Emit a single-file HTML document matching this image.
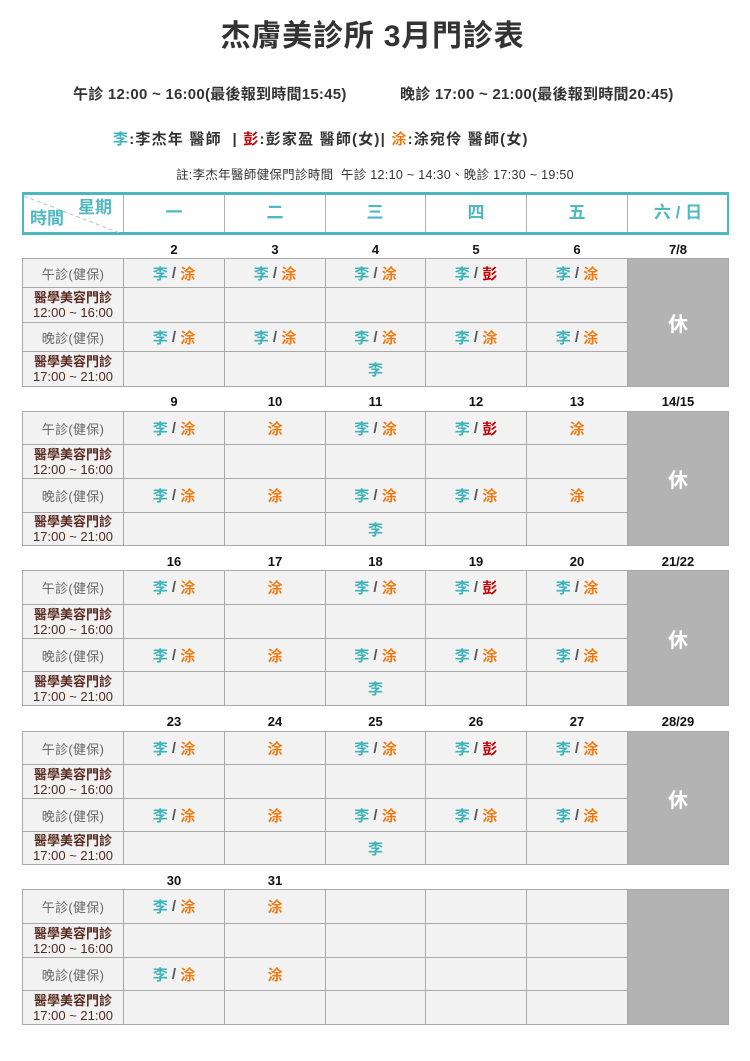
<!DOCTYPE html>
<html><head><meta charset="utf-8">
<style>
*{margin:0;padding:0;box-sizing:border-box}
body{width:750px;height:1061px;background:#fff;position:relative;overflow:hidden;font-family:"Liberation Sans","Noto Sans CJK TC",sans-serif;color:#333}
.a{position:absolute;white-space:nowrap}
.title{left:0;width:745px;text-align:center;top:18px;font-size:30px;line-height:38px;font-weight:bold;color:#333;letter-spacing:0.8px}
.hrs{top:85px;font-size:15px;line-height:20px;font-weight:bold;color:#333;letter-spacing:0.25px}
.leg{top:130px;left:113px;font-size:15px;line-height:20px;font-weight:bold;color:#333;letter-spacing:1.2px}
.note{top:166px;left:176px;font-size:12.5px;line-height:18px;color:#333;letter-spacing:0.3px}
.l{color:#3db3bc}.t{color:#f07b12}.p{color:#c40000}
.hdr{position:absolute;left:22px;top:192px;width:707px;height:43px;border-top:3px solid #4cb7bf;border-bottom:3px solid #4cb7bf;border-left:2px solid #4cb7bf;border-right:2px solid #4cb7bf;background:#fff}
.vl{position:absolute;top:195px;width:1px;height:37px;background:#b0b0b0}
.hl{position:absolute;top:202px;font-size:17px;line-height:22px;font-weight:bold;color:#4fb9c1;text-align:center;width:100px}
.blk{position:absolute;left:22px;width:707px;display:grid;grid-template-columns:100px 100px 100px 99px 100px 100px 100px;gap:1px;padding:1px;background:#a9a9a9}
.blk>div{background:#f2f2f2;display:flex;align-items:center;justify-content:center;text-align:center;font-weight:bold;font-size:15px;color:#555;white-space:nowrap}
.blk>div.k{font-weight:normal;font-size:13px;color:#666;letter-spacing:0.3px}
.blk>div.m{font-size:13px;line-height:15px;color:#4a2a20;font-weight:normal;flex-direction:column}
.blk>div.m b{font-weight:bold;color:#5a2a20}
.blk>div.g{background:#b3b3b3;grid-column:7;grid-row:1/5;color:#fff;font-size:20px}
.dt{position:absolute;left:22px;width:707px;display:grid;grid-template-columns:100px 100px 100px 99px 100px 100px 100px;gap:1px;padding:0 1px;font-size:13px;font-weight:bold;color:#111;text-align:center;line-height:16px}
</style></head><body>
<div class="a title">杰膚美診所 3月門診表</div>
<div class="a hrs" style="left:73px">午診 12:00 ~ 16:00(最後報到時間15:45)</div>
<div class="a hrs" style="left:400px">晚診 17:00 ~ 21:00(最後報到時間20:45)</div>
<div class="a leg"><span class="l">李</span>:李杰年 醫師 &nbsp;| <span class="p">彭</span>:彭家盈 醫師(女)| <span class="t">涂</span>:涂宛伶 醫師(女)</div>
<div class="a note">註:李杰年醫師健保門診時間 &nbsp;午診 12:10 ~ 14:30、晚診 17:30 ~ 19:50</div>

<div class="hdr"></div>
<svg style="position:absolute;left:0;top:0" width="750" height="240"><line x1="24" y1="196" x2="120" y2="233" stroke="#a8c8cc" stroke-width="1" stroke-dasharray="4,3"/></svg>
<div class="vl" style="left:123px"></div><div class="vl" style="left:224px"></div><div class="vl" style="left:325px"></div><div class="vl" style="left:425px"></div><div class="vl" style="left:526px"></div><div class="vl" style="left:627px"></div>
<div class="a" style="left:78px;top:197px;font-size:17px;line-height:22px;font-weight:bold;color:#4fb9c1">星期</div>
<div class="a" style="left:30px;top:208px;font-size:17px;line-height:22px;font-weight:bold;color:#4fb9c1">時間</div>
<div class="hl" style="left:124px">一</div>
<div class="hl" style="left:225px">二</div>
<div class="hl" style="left:325px">三</div>
<div class="hl" style="left:426px">四</div>
<div class="hl" style="left:527px">五</div>
<div class="hl" style="left:628px">六 / 日</div>

<!-- Week 1 -->
<div class="dt" style="top:242px"><span></span><span>2</span><span>3</span><span>4</span><span>5</span><span>6</span><span>7/8</span></div>
<div class="blk" style="top:258px;height:129px;grid-template-rows:28px 34px 28px 34px">
<div class="g">休</div>
<div class="k">午診(健保)</div>
<div><span class="l">李</span>&nbsp;/&nbsp;<span class="t">涂</span></div>
<div><span class="l">李</span>&nbsp;/&nbsp;<span class="t">涂</span></div>
<div><span class="l">李</span>&nbsp;/&nbsp;<span class="t">涂</span></div>
<div><span class="l">李</span>&nbsp;/&nbsp;<span class="p">彭</span></div>
<div><span class="l">李</span>&nbsp;/&nbsp;<span class="t">涂</span></div>
<div class="m"><b>醫學美容門診</b>12:00 ~ 16:00</div>
<div></div><div></div><div></div><div></div><div></div>
<div class="k">晚診(健保)</div>
<div><span class="l">李</span>&nbsp;/&nbsp;<span class="t">涂</span></div>
<div><span class="l">李</span>&nbsp;/&nbsp;<span class="t">涂</span></div>
<div><span class="l">李</span>&nbsp;/&nbsp;<span class="t">涂</span></div>
<div><span class="l">李</span>&nbsp;/&nbsp;<span class="t">涂</span></div>
<div><span class="l">李</span>&nbsp;/&nbsp;<span class="t">涂</span></div>
<div class="m"><b>醫學美容門診</b>17:00 ~ 21:00</div>
<div></div><div></div><div><span class="l">李</span></div><div></div><div></div>
</div>

<!-- Week 2 -->
<div class="dt" style="top:394px"><span></span><span>9</span><span>10</span><span>11</span><span>12</span><span>13</span><span>14/15</span></div>
<div class="blk" style="top:411px;height:135px;grid-template-rows:32px 33px 33px 32px">
<div class="g">休</div>
<div class="k">午診(健保)</div>
<div><span class="l">李</span>&nbsp;/&nbsp;<span class="t">涂</span></div>
<div><span class="t">涂</span></div>
<div><span class="l">李</span>&nbsp;/&nbsp;<span class="t">涂</span></div>
<div><span class="l">李</span>&nbsp;/&nbsp;<span class="p">彭</span></div>
<div><span class="t">涂</span></div>
<div class="m"><b>醫學美容門診</b>12:00 ~ 16:00</div>
<div></div><div></div><div></div><div></div><div></div>
<div class="k">晚診(健保)</div>
<div><span class="l">李</span>&nbsp;/&nbsp;<span class="t">涂</span></div>
<div><span class="t">涂</span></div>
<div><span class="l">李</span>&nbsp;/&nbsp;<span class="t">涂</span></div>
<div><span class="l">李</span>&nbsp;/&nbsp;<span class="t">涂</span></div>
<div><span class="t">涂</span></div>
<div class="m"><b>醫學美容門診</b>17:00 ~ 21:00</div>
<div></div><div></div><div><span class="l">李</span></div><div></div><div></div>
</div>

<!-- Week 3 -->
<div class="dt" style="top:554px"><span></span><span>16</span><span>17</span><span>18</span><span>19</span><span>20</span><span>21/22</span></div>
<div class="blk" style="top:570px;height:136px;grid-template-rows:33px 33px 32px 33px">
<div class="g">休</div>
<div class="k">午診(健保)</div>
<div><span class="l">李</span>&nbsp;/&nbsp;<span class="t">涂</span></div>
<div><span class="t">涂</span></div>
<div><span class="l">李</span>&nbsp;/&nbsp;<span class="t">涂</span></div>
<div><span class="l">李</span>&nbsp;/&nbsp;<span class="p">彭</span></div>
<div><span class="l">李</span>&nbsp;/&nbsp;<span class="t">涂</span></div>
<div class="m"><b>醫學美容門診</b>12:00 ~ 16:00</div>
<div></div><div></div><div></div><div></div><div></div>
<div class="k">晚診(健保)</div>
<div><span class="l">李</span>&nbsp;/&nbsp;<span class="t">涂</span></div>
<div><span class="t">涂</span></div>
<div><span class="l">李</span>&nbsp;/&nbsp;<span class="t">涂</span></div>
<div><span class="l">李</span>&nbsp;/&nbsp;<span class="t">涂</span></div>
<div><span class="l">李</span>&nbsp;/&nbsp;<span class="t">涂</span></div>
<div class="m"><b>醫學美容門診</b>17:00 ~ 21:00</div>
<div></div><div></div><div><span class="l">李</span></div><div></div><div></div>
</div>

<!-- Week 4 -->
<div class="dt" style="top:714px"><span></span><span>23</span><span>24</span><span>25</span><span>26</span><span>27</span><span>28/29</span></div>
<div class="blk" style="top:731px;height:134px;grid-template-rows:32px 33px 32px 32px">
<div class="g">休</div>
<div class="k">午診(健保)</div>
<div><span class="l">李</span>&nbsp;/&nbsp;<span class="t">涂</span></div>
<div><span class="t">涂</span></div>
<div><span class="l">李</span>&nbsp;/&nbsp;<span class="t">涂</span></div>
<div><span class="l">李</span>&nbsp;/&nbsp;<span class="p">彭</span></div>
<div><span class="l">李</span>&nbsp;/&nbsp;<span class="t">涂</span></div>
<div class="m"><b>醫學美容門診</b>12:00 ~ 16:00</div>
<div></div><div></div><div></div><div></div><div></div>
<div class="k">晚診(健保)</div>
<div><span class="l">李</span>&nbsp;/&nbsp;<span class="t">涂</span></div>
<div><span class="t">涂</span></div>
<div><span class="l">李</span>&nbsp;/&nbsp;<span class="t">涂</span></div>
<div><span class="l">李</span>&nbsp;/&nbsp;<span class="t">涂</span></div>
<div><span class="l">李</span>&nbsp;/&nbsp;<span class="t">涂</span></div>
<div class="m"><b>醫學美容門診</b>17:00 ~ 21:00</div>
<div></div><div></div><div><span class="l">李</span></div><div></div><div></div>
</div>

<!-- Week 5 -->
<div class="dt" style="top:873px"><span></span><span>30</span><span>31</span><span></span><span></span><span></span><span></span></div>
<div class="blk" style="top:889px;height:136px;grid-template-rows:33px 33px 32px 33px">
<div class="g"></div>
<div class="k">午診(健保)</div>
<div><span class="l">李</span>&nbsp;/&nbsp;<span class="t">涂</span></div>
<div><span class="t">涂</span></div>
<div></div><div></div><div></div>
<div class="m"><b>醫學美容門診</b>12:00 ~ 16:00</div>
<div></div><div></div><div></div><div></div><div></div>
<div class="k">晚診(健保)</div>
<div><span class="l">李</span>&nbsp;/&nbsp;<span class="t">涂</span></div>
<div><span class="t">涂</span></div>
<div></div><div></div><div></div>
<div class="m"><b>醫學美容門診</b>17:00 ~ 21:00</div>
<div></div><div></div><div></div><div></div><div></div>
</div>
</body></html>
